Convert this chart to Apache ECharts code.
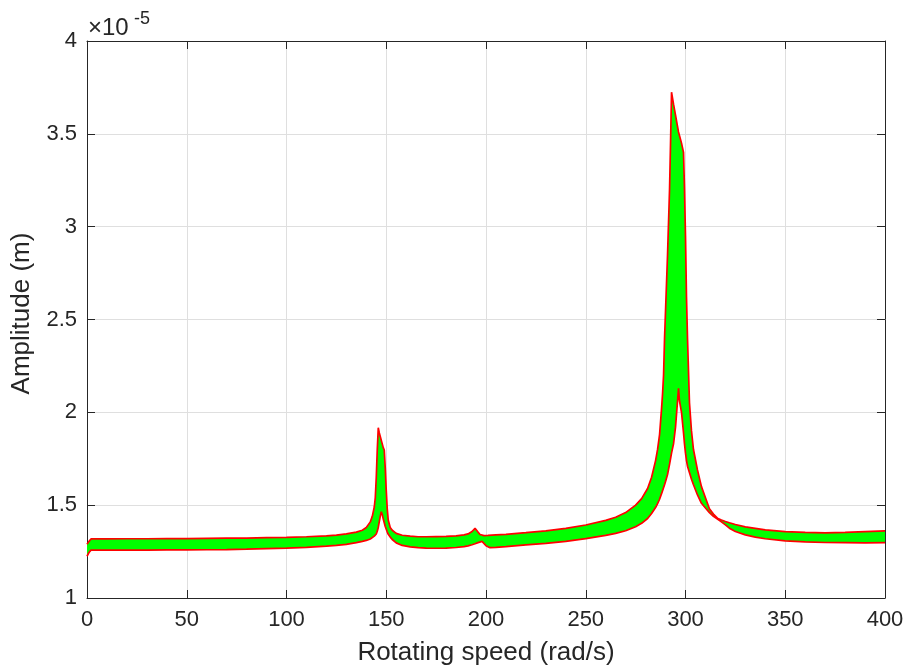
<!DOCTYPE html>
<html>
<head>
<meta charset="utf-8">
<script src="https://cdn.jsdelivr.net/npm/echarts@6/dist/echarts.min.js"></script>
<style>
html,body{margin:0;padding:0;background:#fff;}
#chart{width:909px;height:668px;}
</style>
</head>
<body>
<div id="chart"></div>
<script>
// Rotating speed (rad/s)
const xs = [0, 1, 2, 5, 10, 20, 30, 40, 50, 60, 70, 80, 90, 100, 110, 120, 125, 130, 135, 138, 140, 142, 143, 144, 144.5, 145, 145.5, 146, 146.5, 147, 147.5, 148, 148.5, 149, 149.5, 150, 150.5, 151, 152, 153, 155, 158, 162, 166, 170, 175, 180, 185, 189, 191, 193, 194.5, 196, 197, 198, 199, 200, 201, 202, 205, 210, 220, 230, 240, 250, 260, 265, 270, 275, 278, 281, 283, 285, 286, 287, 288, 288.5, 289, 289.5, 290, 291, 292, 292.5, 293, 294, 295, 296, 296.5, 297, 298, 299, 299.5, 300, 300.5, 301, 302, 303, 304, 306, 308, 310, 312, 314, 316, 318, 320, 322, 325, 330, 335, 340, 350, 360, 370, 380, 390, 400];
// Upper envelope of amplitude (x1e-5 m)
const upper = [1.29, 1.305, 1.318, 1.318, 1.318, 1.319, 1.319, 1.32, 1.32, 1.321, 1.322, 1.323, 1.325, 1.327, 1.33, 1.335, 1.339, 1.345, 1.355, 1.365, 1.38, 1.41, 1.44, 1.49, 1.54, 1.65, 1.8, 1.917, 1.89, 1.87, 1.85, 1.83, 1.81, 1.797, 1.7, 1.58, 1.48, 1.42, 1.38, 1.365, 1.348, 1.338, 1.333, 1.33, 1.33, 1.331, 1.332, 1.335, 1.34, 1.345, 1.358, 1.375, 1.355, 1.342, 1.336, 1.336, 1.337, 1.337, 1.338, 1.34, 1.343, 1.352, 1.362, 1.375, 1.393, 1.418, 1.435, 1.46, 1.5, 1.535, 1.59, 1.65, 1.74, 1.8, 1.88, 2.02, 2.1, 2.2, 2.4, 2.55, 2.85, 3.2, 3.45, 3.724, 3.66, 3.6, 3.54, 3.51, 3.49, 3.45, 3.4, 3.2, 2.95, 2.62, 2.4, 2.05, 1.9, 1.8, 1.69, 1.6, 1.54, 1.48, 1.452, 1.43, 1.42, 1.412, 1.405, 1.396, 1.383, 1.375, 1.367, 1.357, 1.353, 1.351, 1.353, 1.357, 1.361];
// Lower envelope of amplitude (x1e-5 m)
const lower = [1.225, 1.245, 1.258, 1.258, 1.258, 1.258, 1.258, 1.259, 1.259, 1.26, 1.261, 1.263, 1.266, 1.269, 1.273, 1.279, 1.283, 1.289, 1.298, 1.305, 1.31, 1.318, 1.325, 1.333, 1.338, 1.345, 1.36, 1.38, 1.41, 1.44, 1.465, 1.45, 1.425, 1.405, 1.385, 1.37, 1.355, 1.343, 1.328, 1.315, 1.297, 1.283, 1.275, 1.271, 1.269, 1.268, 1.269, 1.272, 1.277, 1.281, 1.287, 1.292, 1.298, 1.302, 1.305, 1.295, 1.282, 1.274, 1.271, 1.273, 1.277, 1.286, 1.294, 1.305, 1.32, 1.337, 1.348, 1.362, 1.384, 1.402, 1.428, 1.455, 1.487, 1.508, 1.532, 1.562, 1.578, 1.594, 1.61, 1.627, 1.665, 1.72, 1.75, 1.78, 1.83, 1.92, 2.06, 2.13, 2.06, 2.0, 1.89, 1.83, 1.78, 1.74, 1.71, 1.675, 1.64, 1.61, 1.555, 1.51, 1.485, 1.46, 1.44, 1.425, 1.41, 1.394, 1.376, 1.358, 1.34, 1.328, 1.319, 1.308, 1.302, 1.299, 1.298, 1.297, 1.298];

const xMin = 0, xMax = 400, xStep = 50;
const yMin = 1, yMax = 4, yStep = 0.5;
const yExponentBase = '\u00d710';
const yExponent = '-5';

const upperData = xs.map((x, i) => [x, upper[i]]);
const lowerData = xs.map((x, i) => [x, lower[i]]);

const axisColor = '#262626';
const fontFam = '"Liberation Sans", Arial, sans-serif';

function renderBand(params, api) {
  const pts = [];
  for (let i = 0; i < xs.length; i++) pts.push(api.coord([xs[i], upper[i]]));
  for (let i = xs.length - 1; i >= 0; i--) pts.push(api.coord([xs[i], lower[i]]));
  return {
    type: 'polygon',
    shape: {points: pts},
    style: {fill: '#00ff00', stroke: null}
  };
}

const chart = echarts.init(document.getElementById('chart'), null, {renderer: 'canvas'});
chart.setOption({
  animation: false,
  backgroundColor: '#ffffff',
  grid: {left: 87, right: 24, top: 41, bottom: 70, containLabel: false, outerBoundsMode: 'none'},
  xAxis: [{
    type: 'value', min: xMin, max: xMax, interval: xStep,
    name: 'Rotating speed (rad/s)', nameLocation: 'middle', nameGap: 42,
    nameTextStyle: {fontSize: 26, color: axisColor, fontFamily: fontFam},
    axisLine: {show: true, onZero: false, lineStyle: {color: axisColor, width: 1}},
    axisTick: {show: true, inside: true, length: 8, lineStyle: {color: axisColor}},
    axisLabel: {fontSize: 22, color: axisColor, fontFamily: fontFam, margin: 11},
    splitLine: {show: true, lineStyle: {color: '#dfdfdf', width: 1}}
  }, {
    type: 'value', position: 'top', min: xMin, max: xMax, interval: xStep,
    axisLine: {show: true, onZero: false, lineStyle: {color: axisColor, width: 1}},
    axisTick: {show: true, inside: true, length: 8, lineStyle: {color: axisColor}},
    axisLabel: {show: false}, splitLine: {show: false}
  }],
  yAxis: [{
    type: 'value', min: yMin, max: yMax, interval: yStep,
    name: 'Amplitude (m)', nameLocation: 'middle', nameGap: 52, nameRotate: 90,
    nameTextStyle: {fontSize: 26, color: axisColor, fontFamily: fontFam, padding: [0, 0, 0, 12]},
    axisLine: {show: true, onZero: false, lineStyle: {color: axisColor, width: 1}},
    axisTick: {show: true, inside: true, length: 8, lineStyle: {color: axisColor}},
    axisLabel: {fontSize: 22, color: axisColor, fontFamily: fontFam, margin: 10},
    splitLine: {show: true, lineStyle: {color: '#dfdfdf', width: 1}}
  }, {
    type: 'value', position: 'right', min: yMin, max: yMax, interval: yStep,
    axisLine: {show: true, onZero: false, lineStyle: {color: axisColor, width: 1}},
    axisTick: {show: true, inside: true, length: 8, lineStyle: {color: axisColor}},
    axisLabel: {show: false}, splitLine: {show: false}
  }],
  graphic: [
    {type: 'text', left: 88, top: 16, style: {text: yExponentBase, fontSize: 24, fill: axisColor, fontFamily: fontFam}},
    {type: 'text', left: 134, top: 10, style: {text: yExponent, fontSize: 18, fill: axisColor, fontFamily: fontFam}}
  ],
  series: [
    {type: 'custom', renderItem: renderBand, data: [[xs[0], lower[0]]], silent: true, z: 2, clip: true},
    {type: 'line', data: upperData, symbol: 'none', lineStyle: {color: '#ff0000', width: 1.7}, z: 3},
    {type: 'line', data: lowerData, symbol: 'none', lineStyle: {color: '#ff0000', width: 1.7}, z: 3}
  ]
});
</script>
</body>
</html>
